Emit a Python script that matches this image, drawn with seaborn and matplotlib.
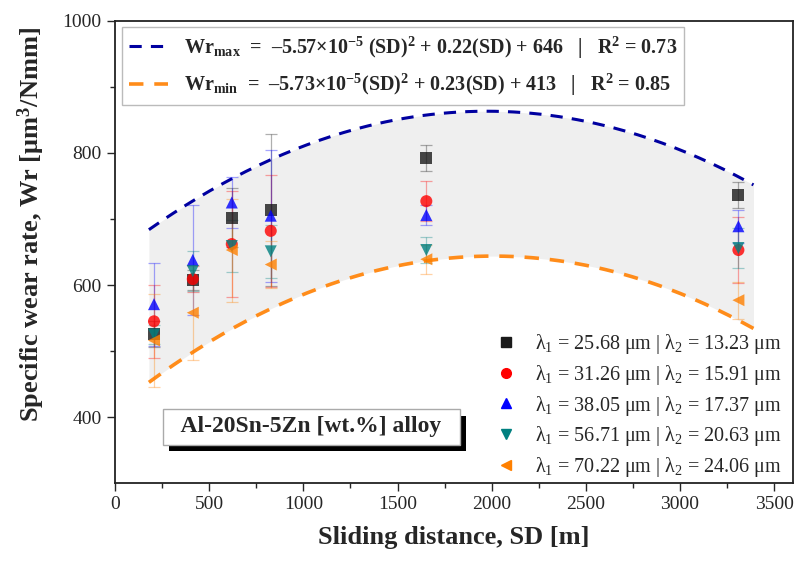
import numpy as np
import pandas as pd
import seaborn as sns
import matplotlib.pyplot as plt
import matplotlib.patheffects as pe
from matplotlib.lines import Line2D

sns.set_style("ticks")
plt.rcParams['font.family'] = ['Liberation Serif', 'DejaVu Serif']
plt.rcParams['mathtext.fontset'] = 'custom'
plt.rcParams['mathtext.rm'] = 'Liberation Serif'
plt.rcParams['mathtext.it'] = 'Liberation Serif:italic'
plt.rcParams['mathtext.bf'] = 'Liberation Serif:bold'
plt.rcParams['mathtext.default'] = 'regular'

# data
sd = [207, 413, 620, 827, 1653, 3310]
labels = ["λ$_1$ = 25.68 μm | λ$_2$ = 13.23 μm",
          "λ$_1$ = 31.26 μm | λ$_2$ = 15.91 μm",
          "λ$_1$ = 38.05 μm | λ$_2$ = 17.37 μm",
          "λ$_1$ = 56.71 μm | λ$_2$ = 20.63 μm",
          "λ$_1$ = 70.22 μm | λ$_2$ = 24.06 μm"]
wr_1 = [526, 608, 702, 714, 792, 736]
wr_2 = [545, 609, 662, 682, 727, 653]
wr_3 = [571, 638, 725, 705, 706, 689]
wr_4 = [525, 621, 659, 651, 653, 656]
wr_5 = [516, 558, 653, 631, 639, 577]
err_1 = [20, 15, 45, 115, 20, 20]
err_2 = [55, 20, 80, 85, 30, 50]
err_3 = [63, 83, 38, 100, 15, 25]
err_4 = [15, 30, 40, 40, 20, 30]
err_5 = [70, 72, 78, 35, 22, 28]

# fitted curves (from the equations in the legend)
fit_max = [-5.57e-5, 0.22, 646]
fit_min = [-5.73e-5, 0.23, 413]
fit_range = [180, 3390]

colors = ['#1a1a1a', '#ff0000', '#0000ff', '#008080', '#ff8000']
markers = ['s', 'o', '^', 'v', '<']

rows = []
for lab, wr, err in zip(labels, [wr_1, wr_2, wr_3, wr_4, wr_5],
                        [err_1, err_2, err_3, err_4, err_5]):
    for x, y, e in zip(sd, wr, err):
        rows.append({'SD': x, 'Wr': y, 'err': e, 'sample': lab})
df = pd.DataFrame(rows)

fig = plt.figure(figsize=(7.97, 5.63), dpi=100)
ax = fig.add_axes([0.1443, 0.142, 0.8507, 0.8208])

xs = np.linspace(fit_range[0], fit_range[1], 200)
y_max = np.polyval(fit_max, xs)
y_min = np.polyval(fit_min, xs)
ax.fill_between(xs, y_min, y_max, color='#efefef', zorder=0, lw=0)
l1, = ax.plot(xs, y_max, ls=(0, (4, 3)), color='#0000a0', lw=2.2, zorder=1)
l2, = ax.plot(xs, y_min, ls=(0, (4, 3)), color='#ff8c1a', lw=2.6, zorder=1)

for lab, c in zip(labels, colors):
    d = df[df['sample'] == lab]
    ax.errorbar(d['SD'], d['Wr'], yerr=d['err'], fmt='none', ecolor=c,
                alpha=0.35, elinewidth=0.9, capsize=4, capthick=0.9, zorder=2)

sns.scatterplot(data=df, x='SD', y='Wr', hue='sample', style='sample',
                palette=colors, markers=markers, s=75, alpha=0.8,
                edgecolor='none', ax=ax, zorder=3, legend=False)

# legends
eq1 = r"$\mathbf{Wr_{max}}$  =  –5.57×10$^{\mathbf{-5}}$ (SD)$^{\mathbf{2}}$ + 0.22(SD) + 646   |   R$^{\mathbf{2}}$ = 0.73"
eq2 = r"$\mathbf{Wr_{min}}$  =  –5.73×10$^{\mathbf{-5}}$(SD)$^{\mathbf{2}}$ + 0.23(SD) + 413   |   R$^{\mathbf{2}}$ = 0.85"
leg1 = ax.legend([l1, l2], [eq1, eq2], loc='upper left', bbox_to_anchor=(0.005, 0.995),
                 prop={'weight': 'bold', 'size': 14.5}, frameon=True, fancybox=False,
                 edgecolor='#aaaaaa', handlelength=1.9, handletextpad=0.8,
                 borderpad=0.35, labelspacing=0.55, borderaxespad=0.2)
leg1.get_frame().set_linewidth(1.0)
ax.add_artist(leg1)

handles = [Line2D([], [], ls='none', marker=m, color=c, markersize=7)
           for m, c in zip(markers, colors)]
ax.legend(handles, labels, loc='lower right', bbox_to_anchor=(1.01, -0.03),
          frameon=False, prop={'size': 14.5}, handletextpad=0.4, labelspacing=0.33)

t = ax.text(1045, 385, "  Al-20Sn-5Zn [wt.%] alloy  ", ha='center', va='center',
            fontsize=17, fontweight='bold',
            bbox=dict(boxstyle='square,pad=0.3', fc='white', ec='#aaaaaa', lw=1))
t.get_bbox_patch().set_path_effects([
    pe.SimplePatchShadow(offset=(4, -5), shadow_rgbFace='black', alpha=1), pe.Normal()])

ax.set_xlim(0, 3600)
ax.set_ylim(300, 1000)
ax.set_xticks(np.arange(0, 3501, 500))
ax.set_xticks(np.arange(250, 3600, 500), minor=True)
ax.set_yticks([400, 600, 800, 1000])
ax.set_yticks([500, 700, 900], minor=True)
ax.tick_params(axis='both', which='major', labelsize=14, length=6, width=1, direction='out')
ax.tick_params(axis='both', which='minor', length=3.5, width=1, direction='out')
for s in ax.spines.values():
    s.set_visible(True)
    s.set_linewidth(1.3)
    s.set_color('#222222')

ax.set_xlabel("Sliding distance, SD [m]", fontsize=19, fontweight='bold', labelpad=9)
ax.set_ylabel(r"Specific wear rate, Wr [μm$^{\mathbf{3}}$/Nmm]", fontsize=19, fontweight='bold')
ax.yaxis.set_label_coords(-0.1, 0.56)

fig.savefig("out.png", dpi=100)
